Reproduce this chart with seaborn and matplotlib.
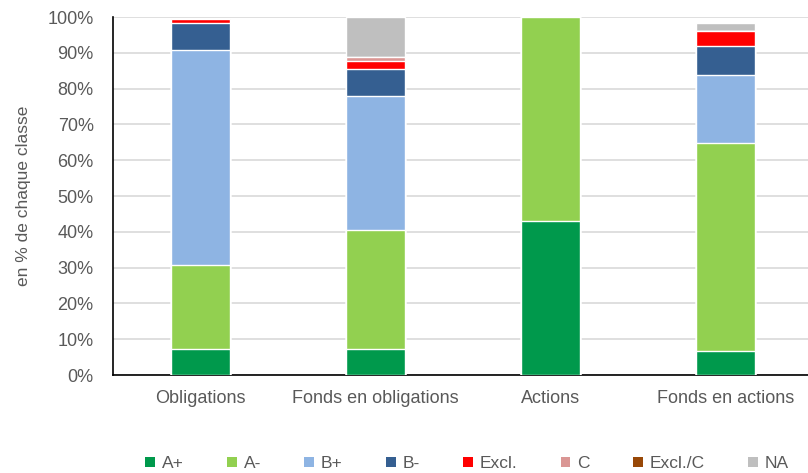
#!/usr/bin/env python3
"""Stacked 100% bars: rating breakdown per asset class."""

import matplotlib
matplotlib.use("Agg")
import matplotlib.pyplot as plt
from matplotlib.patches import Patch
from matplotlib.ticker import PercentFormatter
import numpy as np
import pandas as pd
import seaborn as sns

CATEGORIES = ["Obligations", "Fonds en obligations", "Actions", "Fonds en actions"]
RATINGS = ["A+", "A-", "B+", "B-", "Excl.", "C", "Excl./C", "NA"]

A_PLUS = [7.3, 7.3, 43.0, 6.7]
A_MINUS = [23.4, 33.2, 57.0, 58.1]
B_PLUS = [60.1, 37.4, 0.0, 19.0]
B_MINUS = [7.6, 7.6, 0.0, 8.1]
EXCL = [1.0, 2.3, 0.0, 4.1]
C = [0.0, 1.0, 0.0, 0.0]
EXCL_C = [0.0, 0.0, 0.0, 0.0]
NA = [0.0, 11.2, 0.0, 2.2]

COLORS = ["#00994C", "#92D050", "#8EB4E3", "#355F91",
          "#FF0000", "#DA9694", "#984807", "#BFBFBF"]

TEXT_COLOR = "#595959"


def main() -> None:
    sns.set_theme(style="white")
    plt.rcParams["font.family"] = ["Liberation Sans", "DejaVu Sans"]

    values = np.array([A_PLUS, A_MINUS, B_PLUS, B_MINUS, EXCL, C, EXCL_C, NA])
    cumul = values.cumsum(axis=0)

    fig = plt.figure(figsize=(8.08, 4.73), dpi=100)
    ax = fig.add_axes([0.14, 0.207, 0.866, 0.757])

    # draw cumulative totals from the top layer down so each lower layer covers the rest
    for i in range(len(RATINGS) - 1, -1, -1):
        df = pd.DataFrame({"cat": CATEGORIES, "val": cumul[i]})
        sns.barplot(data=df, x="cat", y="val", color=COLORS[i], width=0.34,
                    edgecolor="white", linewidth=1.0, saturation=1, ax=ax, zorder=3)

    ax.set_ylim(0, 100)
    ax.set_xlim(-0.5, 3.5)
    ax.set_yticks(np.arange(0, 101, 10))
    ax.yaxis.set_major_formatter(PercentFormatter(decimals=0))
    ax.grid(axis="y", color="#D9D9D9", linewidth=1.2, zorder=0)
    ax.set_axisbelow(True)

    for side in ["top", "right"]:
        ax.spines[side].set_visible(False)
    for side in ["left", "bottom"]:
        ax.spines[side].set_color("#000000")
        ax.spines[side].set_linewidth(1.2)

    ax.tick_params(axis="both", colors=TEXT_COLOR, labelsize=13, length=0)
    ax.tick_params(axis="y", pad=14)
    ax.tick_params(axis="x", pad=11)
    ax.set_xlabel("")
    ax.set_ylabel("en % de chaque classe", color=TEXT_COLOR, fontsize=12.5, labelpad=12)

    handles = [Patch(facecolor=c, edgecolor="none", label=r) for c, r in zip(COLORS, RATINGS)]
    fig.legend(handles=handles, loc="center", bbox_to_anchor=(0.578, 0.02), ncol=8,
               frameon=False, fontsize=12.5, handlelength=0.55, handleheight=0.55,
               handletextpad=0.4, columnspacing=2.5, labelcolor=TEXT_COLOR)

    fig.savefig("out.png", dpi=100)
    plt.close(fig)


if __name__ == "__main__":
    main()
